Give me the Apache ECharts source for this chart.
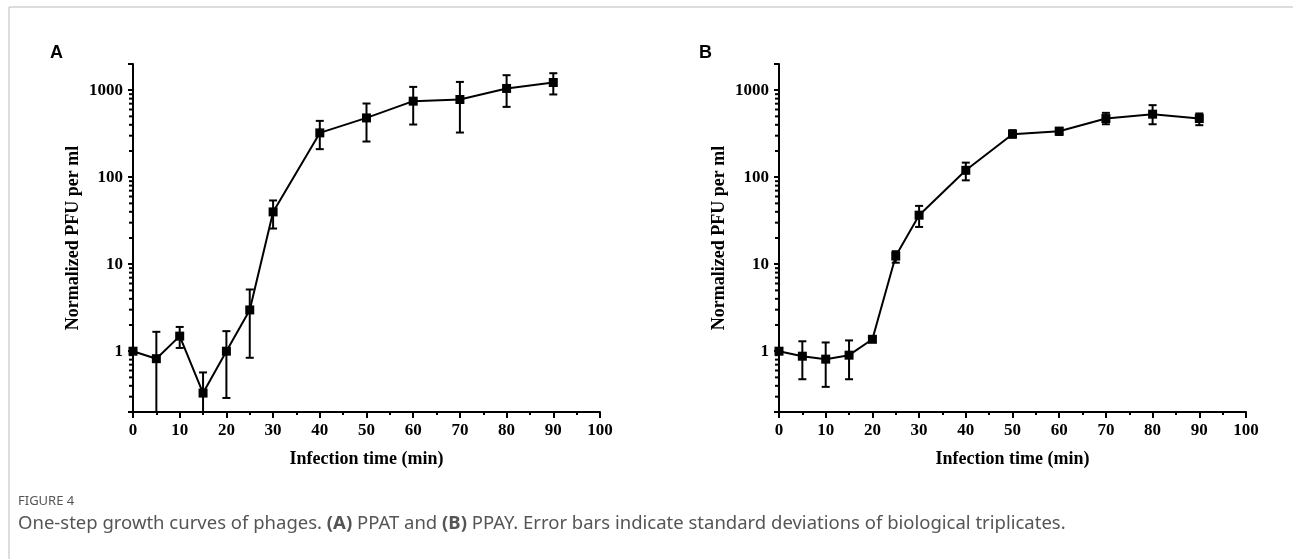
<!DOCTYPE html>
<html>
<head>
<meta charset="utf-8">
<script src="https://cdn.jsdelivr.net/npm/echarts@6/dist/echarts.min.js"></script>
<style>
html, body { margin: 0; padding: 0; background: #fff; }
#chart { width: 1293px; height: 559px; }
</style>
</head>
<body>
<div id="chart"></div>
<script>
// infection time points (min)
const times = [0, 5, 10, 15, 20, 25, 30, 40, 50, 60, 70, 80, 90];

// (A) PPAT
const ppatMean = [1.0, 0.82, 1.49, 0.33, 1.0, 2.98, 39.9, 323, 480, 748, 782, 1047, 1225];
const ppatLow  = [1.0, 0.2, 1.09, 0.2, 0.29, 0.84, 25.7, 210, 257, 403, 326, 643, 893];
const ppatHigh = [1.0, 1.67, 1.90, 0.57, 1.70, 5.12, 54, 444, 703, 1091, 1245, 1487, 1567];

// (B) PPAY
const ppayMean = [1.0, 0.876, 0.81, 0.90, 1.37, 12.4, 36.6, 120, 312, 338, 472, 530, 472];
const ppayLow  = [1.0, 0.476, 0.389, 0.476, 1.30, 10.4, 26.8, 92, 286, 306, 406, 406, 396];
const ppayHigh = [1.0, 1.30, 1.26, 1.33, 1.45, 14.1, 46.8, 147, 347, 369, 549, 673, 540];

const yMajorLabels = [1, 10, 100, 1000];
const yMinorTicks = [0.3, 0.4, 0.5, 0.6, 0.7, 0.8, 0.9,
  2, 3, 4, 5, 6, 7, 8, 9, 20, 30, 40, 50, 60, 70, 80, 90,
  200, 300, 400, 500, 600, 700, 800, 900];

const serif = "'Times New Roman', 'Liberation Serif', serif";

const myChart = echarts.init(document.getElementById('chart'));

function errorBars(params, api) {
    const x = api.value(0);
    const lo = api.coord([x, api.value(1)]);
    const hi = api.coord([x, api.value(2)]);
    const w = 4;
    const st = { stroke: '#000', lineWidth: 2 };
    return {
        type: 'group',
        children: [
            { type: 'line', shape: { x1: lo[0], y1: lo[1], x2: hi[0], y2: hi[1] }, style: st },
            { type: 'line', shape: { x1: lo[0] - w, y1: lo[1], x2: lo[0] + w, y2: lo[1] }, style: st },
            { type: 'line', shape: { x1: hi[0] - w, y1: hi[1], x2: hi[0] + w, y2: hi[1] }, style: st }
        ]
    };
}

// log minor ticks (2..9 of each decade), drawn left of the y axis
function minorTick(params, api) {
    const p = api.coord([api.value(0), api.value(1)]);
    return {
        type: 'line',
        shape: { x1: p[0] - 4, y1: p[1], x2: p[0], y2: p[1] },
        style: { stroke: '#000', lineWidth: 2 }
    };
}

function xAxisOf(idx) {
    return {
        type: 'value', gridIndex: idx, min: 0, max: 100, interval: 10,
        name: 'Infection time (min)', nameLocation: 'middle', nameGap: 38,
        nameTextStyle: { fontFamily: serif, fontWeight: 'bold', fontSize: 18, color: '#000' },
        splitLine: { show: false },
        axisLine: { lineStyle: { color: '#000', width: 2 } },
        axisTick: { length: 6, lineStyle: { color: '#000', width: 2 } },
        minorTick: { show: true, splitNumber: 2, length: 3, lineStyle: { color: '#000', width: 2 } },
        axisLabel: { fontFamily: serif, fontWeight: 'bold', fontSize: 17, color: '#000', margin: 10 }
    };
}

function yAxisOf(idx) {
    return {
        type: 'log', logBase: 10, gridIndex: idx, min: 0.2, max: 2000,
        name: 'Normalized PFU per ml', nameLocation: 'middle', nameGap: 51,
        nameTextStyle: { fontFamily: serif, fontWeight: 'bold', fontSize: 18, color: '#000' },
        splitLine: { show: false },
        axisLine: { lineStyle: { color: '#000', width: 2 } },
        axisTick: { length: 5, lineStyle: { color: '#000', width: 2 } },
        axisLabel: {
            fontFamily: serif, fontWeight: 'bold', fontSize: 17, color: '#000', margin: 10,
            formatter: v => {
                const m = yMajorLabels.find(t => Math.abs(t - v) / t < 1e-6);
                return m ? String(m) : '';
            }
        }
    };
}

function seriesFor(idx, mean, low, high) {
    return [
        {
            type: 'custom', xAxisIndex: idx, yAxisIndex: idx,
            renderItem: errorBars,
            encode: { x: 0, y: [1, 2] },
            data: times.map((t, i) => [t, low[i], high[i]]),
            z: 2
        },
        {
            type: 'line', xAxisIndex: idx, yAxisIndex: idx,
            data: times.map((t, i) => [t, mean[i]]),
            symbol: 'rect', symbolSize: 9,
            lineStyle: { color: '#000', width: 2 },
            itemStyle: { color: '#000' },
            z: 3
        },
        {
            type: 'custom', xAxisIndex: idx, yAxisIndex: idx,
            renderItem: minorTick,
            clip: false,
            encode: { x: 0, y: 1 },
            data: yMinorTicks.map(v => [0, v]),
            z: 4
        }
    ];
}

const capStyle = { fontFamily: "'Noto Sans', 'Open Sans', sans-serif", fill: '#555' };

const option = {
    animation: false,
    backgroundColor: '#fff',
    grid: [
        { left: 133, right: 693, top: 64, bottom: 147 },
        { left: 779, right: 47, top: 64, bottom: 147 }
    ],
    xAxis: [xAxisOf(0), xAxisOf(1)],
    yAxis: [yAxisOf(0), yAxisOf(1)],
    series: [
        ...seriesFor(0, ppatMean, ppatLow, ppatHigh),
        ...seriesFor(1, ppayMean, ppayLow, ppayHigh)
    ],
    graphic: [
        { type: 'line', shape: { x1: 9, y1: 7, x2: 1293, y2: 7 }, style: { stroke: '#bbb', lineWidth: 1 } },
        { type: 'line', shape: { x1: 9, y1: 7, x2: 9, y2: 559 }, style: { stroke: '#bbb', lineWidth: 1 } },
        { type: 'text', left: 50, top: 44, style: { text: 'A', font: "bold 18px 'Liberation Sans', Arial, sans-serif", fill: '#000' } },
        { type: 'text', left: 699, top: 44, style: { text: 'B', font: "bold 18px 'Liberation Sans', Arial, sans-serif", fill: '#000' } },
        { type: 'text', left: 18, top: 495, style: Object.assign({ text: 'FIGURE 4', fontSize: 13 }, capStyle) },
        {
            type: 'text', left: 18, top: 514,
            style: Object.assign({
                text: 'One-step growth curves of phages. {b|(A)} PPAT and {b|(B)} PPAY. Error bars indicate standard deviations of biological triplicates.',
                fontSize: 18.5,
                rich: { b: { fontWeight: 'bold', fontSize: 18.5, fill: '#555', fontFamily: "'Noto Sans', sans-serif" } }
            }, capStyle)
        }
    ]
};

myChart.setOption(option);
</script>
</body>
</html>
